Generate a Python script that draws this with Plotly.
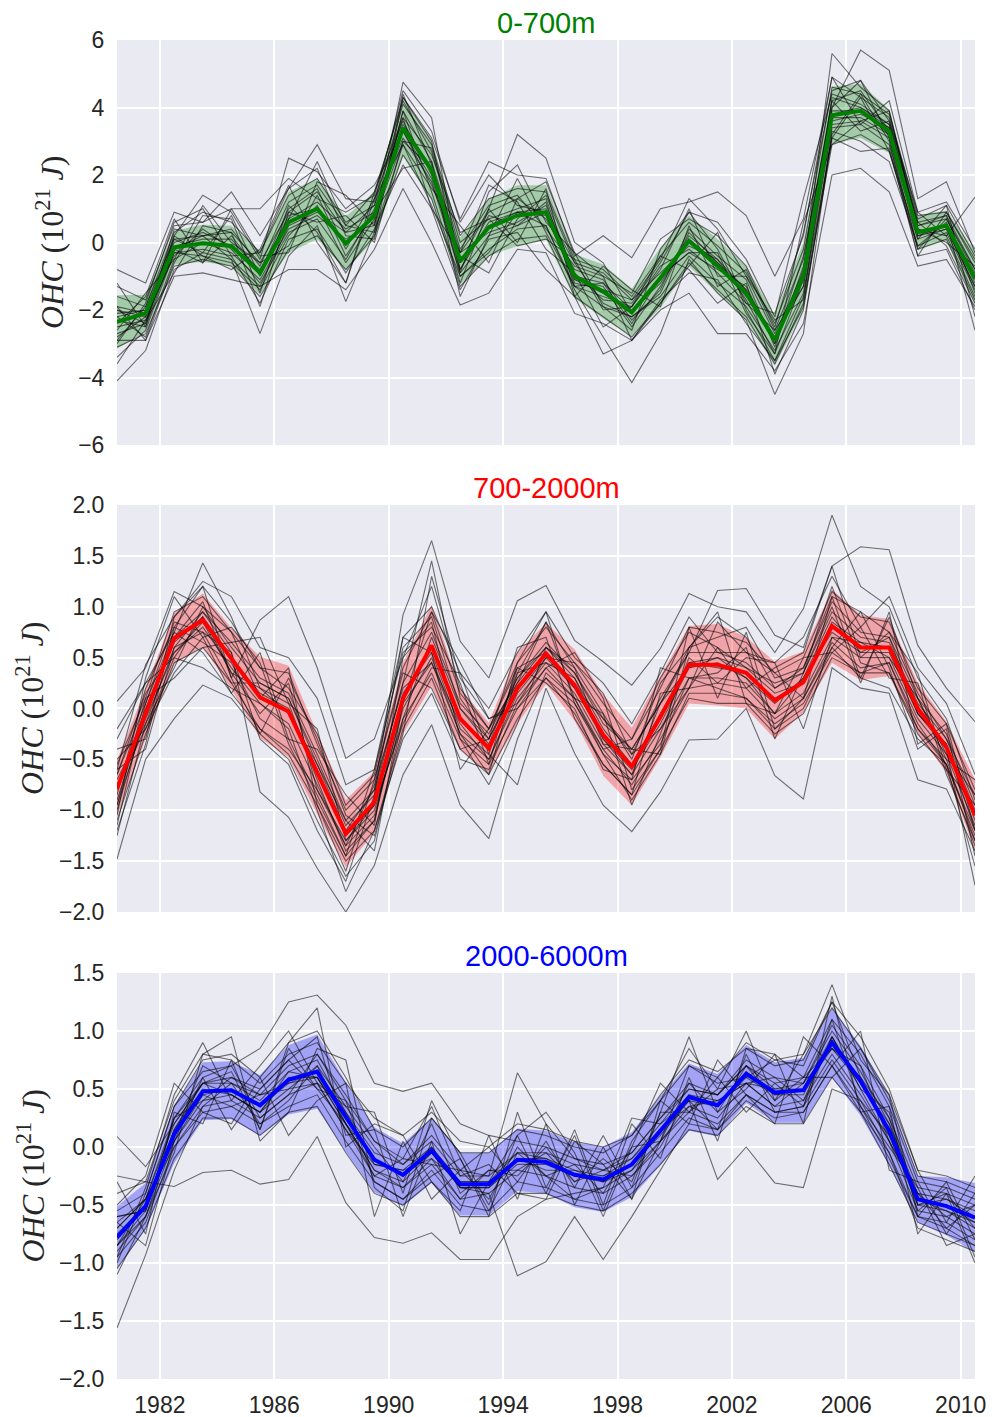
import plotly.graph_objects as go

YEARS = [1980.5, 1981.5, 1982.5, 1983.5, 1984.5, 1985.5, 1986.5, 1987.5, 1988.5, 1989.5,
         1990.5, 1991.5, 1992.5, 1993.5, 1994.5, 1995.5, 1996.5, 1997.5, 1998.5, 1999.5,
         2000.5, 2001.5, 2002.5, 2003.5, 2004.5, 2005.5, 2006.5, 2007.5, 2008.5, 2009.5,
         2010.5]
TICK_YEARS = [1982, 1986, 1990, 1994, 1998, 2002, 2006, 2010]

# ---------------- 0-700m ----------------
MEAN_0_700 = [-2.35, -2.1, -0.15, -0.02, -0.1, -0.9, 0.6, 1.0, -0.03, 0.8,
              3.4, 2.15, -0.55, 0.45, 0.8, 0.9, -1.0, -1.45, -2.07, -1.05,
              0.05, -0.7, -1.5, -2.9, -1.0, 3.77, 3.9, 3.3, 0.3, 0.5, -1.05]
STD_0_700 = [0.79, 0.55, 0.5, 0.55, 0.6, 0.65, 0.9, 0.9, 0.8, 0.7,
             0.85, 0.9, 0.7, 0.85, 0.9, 0.8, 0.65, 0.8, 0.7, 0.9,
             0.75, 0.8, 0.8, 0.75, 1.0, 0.85, 0.8, 0.65, 0.5, 0.45, 0.8]
MEMBERS_0_700 = [
    [-1.6, -1.9, 0.3, 0.9, 0.6, -0.3, 1.4, 1.9, 0.6, 1.1, 4.1, 2.9, 0.2, 1.3, 1.6, 1.5, -0.5, -0.8, -1.6, -0.4, 0.6, -0.1, -0.9, -2.4, -0.2, 4.6, 4.4, 3.8, 0.8, 0.9, -0.6],
    [-3.1, -2.7, -0.7, -0.5, -0.7, -1.6, -0.2, 0.2, -0.8, 0.2, 2.6, 1.3, -1.3, -0.4, 0.1, 0.2, -1.6, -2.2, -2.8, -1.8, -0.6, -1.4, -2.2, -3.6, -1.8, 2.9, 3.2, 2.7, -0.2, 0.1, -1.7],
    [-2.0, -2.4, 0.1, 0.2, 0.3, -0.6, 0.9, 1.5, 0.3, 0.5, 3.9, 2.4, -0.3, 0.9, 1.3, 0.7, -0.8, -1.1, -2.3, -1.4, 0.4, -0.4, -1.1, -3.1, -0.7, 4.2, 4.5, 3.3, 0.5, 0.7, -0.9],
    [-2.8, -2.2, -0.4, 0.4, -0.2, -1.2, 0.3, 0.7, -0.5, 1.0, 3.1, 1.8, -0.9, 0.2, 0.5, 1.2, -1.3, -1.6, -1.9, -0.7, -0.2, -0.9, -1.8, -2.6, -1.3, 3.5, 3.6, 3.1, 0.1, 0.4, -1.3],
    [-0.8, -1.2, 0.9, 0.6, 1.5, 0.2, 1.6, 2.9, 1.3, 1.2, 4.5, 3.3, 0.6, 2.0, 1.1, 0.9, -0.6, -0.9, -1.7, -0.5, 1.3, 0.4, -1.0, -2.7, -0.9, 5.6, 4.6, 3.9, 0.4, 0.2, 1.35],
    [-4.1, -3.2, -0.8, -0.3, -0.5, -2.7, -0.4, 0.5, -1.75, 0.3, 2.9, 1.1, -1.0, -0.3, 0.9, 0.5, -1.4, -2.8, -4.15, -2.7, -0.5, -1.5, -2.3, -4.5, -2.7, 3.3, 3.0, 2.4, -0.1, 0.6, -2.6],
    [-2.3, -2.5, -0.2, -0.6, 0.2, -0.9, 1.0, 1.6, -0.2, 1.3, 3.6, 2.0, -0.6, 1.0, 3.2, 2.5, 0.0, -0.6, -2.1, -1.0, -0.3, -0.8, -1.3, -3.0, -0.4, 4.0, 5.7, 5.1, 1.3, 1.8, -0.3],
    [-2.6, -1.5, -0.5, 0.0, -0.3, -1.1, 0.4, 0.8, 0.1, 0.6, 4.75, 3.7, -0.8, 0.6, 0.9, 0.8, -1.1, -1.3, -2.5, -1.3, 0.2, -0.5, -1.7, -3.3, -1.1, 3.6, 3.8, 3.4, 0.2, 0.5, -1.1],
    [-1.9, -2.1, 0.2, 1.4, 0.9, -0.5, 2.5, 2.1, 1.0, 1.7, 3.3, 1.7, -0.3, 0.3, 0.6, 1.1, -0.9, -1.7, -1.8, -0.6, 0.9, 0.6, -0.5, -2.2, 1.3, 4.4, 4.1, 3.5, 0.6, 0.8, -0.8],
    [-2.9, -2.9, -1.0, -0.9, -1.1, -1.3, -0.8, -0.8, -1.4, -0.2, 1.6, 0.0, -1.85, -1.5, -0.2, -0.3, -2.1, -2.4, -2.9, -2.0, -1.5, -2.7, -2.7, -3.8, -2.4, 2.0, 2.2, 1.5, -0.7, -0.5, -1.9],
    [-2.2, -2.0, 0.0, 0.3, -0.1, -0.8, 0.7, 1.2, 0.4, 0.9, 3.7, 2.6, 0.3, 0.7, 1.0, 1.3, -1.0, -1.2, -2.0, -1.2, 0.1, -0.6, -1.4, -2.8, -1.1, 3.9, 3.9, 3.2, 0.3, 0.5, -1.2],
    [-3.4, -2.6, -0.3, -0.2, -0.4, -1.8, 0.1, 0.4, -0.9, 0.4, 2.3, 1.0, -1.4, 0.1, 0.3, -0.8, -1.6, -3.3, -2.9, -1.7, -0.9, -1.1, -2.4, -3.5, -1.6, 3.1, 2.7, 2.8, -0.4, -0.2, -2.0],
    [-1.3, -1.7, 0.5, 0.6, 1.0, 1.0, 1.9, 1.3, 0.9, 1.4, 4.3, 3.1, 0.7, 2.4, 2.0, 1.9, -0.4, 0.2, -0.45, 1.0, 1.2, 1.5, 0.8, -1.0, 0.7, 4.9, 4.3, 3.7, 0.7, 1.1, -0.4],
    [-2.5, -2.3, -0.3, -0.4, -0.6, -1.4, 0.2, 1.1, -0.6, 0.7, 3.0, 2.2, -1.0, -0.2, 0.4, 0.5, -1.3, -1.9, -2.2, -1.6, -0.4, -1.2, -1.9, -3.2, -1.5, 3.4, 3.5, 2.9, -0.1, 0.3, -1.4],
    [-2.1, -2.0, -0.1, 0.1, 0.1, -0.9, 0.8, 1.0, 0.0, 0.8, 3.5, 2.2, -0.6, 0.5, 0.9, 1.0, -1.1, -1.5, -2.1, -1.1, 0.0, -0.7, -1.5, -2.9, -1.0, 3.8, 4.0, 3.4, 0.3, 0.5, -1.0],
    [-2.7, -2.4, 0.4, 0.2, 0.4, -0.7, 1.2, 1.7, 0.5, 1.5, 4.2, 2.7, -0.2, 1.1, 1.4, 0.4, -0.7, -1.0, -1.5, 0.1, 0.7, 0.2, -0.7, -2.5, 0.3, 4.5, 4.8, 3.6, 0.9, 1.2, -0.2],
    [-3.0, -1.8, 0.6, 1.0, -0.4, -0.3, 1.6, 2.2, 0.2, 0.1, 4.3, 3.0, -0.9, 1.5, 2.3, 0.6, -0.3, -1.9, -2.6, -0.2, 0.9, -0.2, -1.8, -2.1, 0.2, 4.9, 3.5, 4.2, 0.9, 0.2, -1.6],
    [-1.9, -2.9, -0.6, 0.8, 0.7, -1.5, 1.1, 0.3, -1.2, 1.3, 2.9, 1.6, 0.5, -0.6, 1.3, 1.8, -0.3, -1.0, -2.9, -1.8, -0.7, 0.3, -2.0, -3.5, -1.9, 3.2, 4.4, 3.0, -0.4, 0.9, -0.5],
    [-2.4, -1.6, 0.7, -0.6, 1.0, -0.4, -0.3, 1.8, 1.4, 0.5, 3.9, 1.5, -1.2, 1.0, 0.0, 1.6, -1.6, -0.7, -1.4, -1.9, 0.5, -1.3, -0.8, -2.6, -0.5, 4.2, 3.3, 3.6, 0.6, -0.1, -1.8],
    [-3.6, -2.3, -0.9, 0.5, 0.3, -1.9, 0.9, 0.6, 0.8, 0.0, 3.0, 2.8, 0.0, 0.7, -0.1, 0.1, -0.5, -2.0, -1.9, -0.4, -0.8, -1.8, -1.2, -3.9, -2.0, 3.1, 4.3, 2.7, 0.1, 1.1, -2.2],
    [-1.2, -2.5, 0.2, -0.4, -0.8, -0.2, 1.7, 0.0, -1.2, 1.5, 3.7, 1.0, -0.3, 1.7, 1.2, -0.2, -0.9, -2.5, -1.9, -0.8, 1.0, -1.0, -1.0, -2.3, -1.7, 4.0, 4.8, 3.1, -0.2, 0.7, -0.8],
    [-2.2, -2.8, -0.5, 1.1, 0.0, -0.6, -0.1, 1.4, -0.4, 0.9, 2.2, 2.4, -1.6, 0.2, 1.9, 0.3, -1.3, -1.2, -2.4, -1.0, -0.3, -0.3, -2.1, -3.3, 0.6, 2.9, 3.6, 3.9, 0.4, 0.0, -0.7],
    [-2.9, -1.9, 0.1, -0.3, 0.8, -1.0, 0.7, 2.4, 0.5, 0.3, 4.4, 2.3, -0.4, -0.9, 0.7, 1.4, -0.6, -1.8, -2.2, -1.5, 0.3, -0.6, -1.6, -2.8, -1.3, 4.3, 4.0, 3.5, 0.5, 0.8, -1.5],
    [-2.0, -2.2, -0.2, 0.2, -0.5, -1.3, 0.5, 0.9, 0.3, 1.1, 3.3, 1.9, -0.8, 0.8, 0.5, 0.9, -1.2, -1.4, -1.7, -0.9, -0.1, -0.5, -1.4, -3.0, -0.8, 3.7, 3.7, 3.2, 0.2, 0.4, -1.3],
]

# ---------------- 700-2000m ----------------
MEAN_700_2000 = [-0.79, -0.05, 0.69, 0.87, 0.49, 0.11, -0.03, -0.64, -1.23, -0.92,
                 0.1, 0.62, -0.1, -0.39, 0.2, 0.54, 0.23, -0.26, -0.57, -0.08,
                 0.43, 0.43, 0.35, 0.08, 0.26, 0.81, 0.6, 0.6, 0.0, -0.38, -1.05]
STD_700_2000 = [0.28, 0.25, 0.25, 0.26, 0.3, 0.4, 0.45, 0.4, 0.33, 0.3,
                0.35, 0.4, 0.3, 0.25, 0.35, 0.3, 0.35, 0.4, 0.38, 0.4,
                0.38, 0.4, 0.35, 0.38, 0.3, 0.36, 0.32, 0.28, 0.25, 0.25, 0.35]
MEMBERS_700_2000 = [
    [-0.55, 0.10, 0.95, 1.10, 0.75, 0.40, 0.35, -0.35, -1.00, -0.70, 0.40, 0.95, 0.15, -0.20, 0.45, 0.80, 0.45, 0.05, -0.30, 0.20, 0.80, 0.75, 0.65, 0.35, 0.50, 1.15, 0.90, 0.85, 0.20, -0.15, -0.80],
    [-1.10, -0.25, 0.45, 0.60, 0.25, -0.20, -0.45, -0.95, -1.50, -1.20, -0.20, 0.30, -0.40, -0.65, -0.10, 0.30, -0.05, -0.55, -0.85, -0.40, 0.10, 0.05, 0.05, -0.25, -0.05, 0.50, 0.35, 0.35, -0.25, -0.60, -1.35],
    [0.07, 0.40, 1.15, 1.00, 0.60, 0.25, 0.10, -0.50, -1.15, -0.85, 0.25, 1.45, 0.10, -0.30, 0.30, 0.65, 0.35, -0.10, -0.40, 0.05, 0.60, 0.90, 0.70, 0.20, 0.40, 1.05, 0.75, 0.70, 0.10, -0.25, -0.95],
    [-0.95, -0.10, 0.55, 0.80, 0.40, 0.05, -0.15, -0.75, -1.35, -1.05, 0.00, 0.50, -0.25, -0.50, 0.10, 0.45, 0.15, -0.35, -0.65, -0.20, 0.30, 0.30, 0.25, -0.05, 0.15, 0.70, 0.50, 0.50, -0.10, -0.45, -1.15],
    [-1.48, -0.50, -0.10, 0.23, 0.10, -0.25, -0.50, -1.10, -1.65, -1.30, -0.10, 0.70, 0.00, -0.30, 0.25, 0.60, 0.30, -0.20, -0.55, -0.05, 0.45, 0.50, 0.40, 0.15, 0.25, 0.85, 0.65, 0.60, -0.05, -0.40, -1.74],
    [-0.65, 0.05, 0.75, 1.43, 0.90, 0.20, -0.05, -0.55, -1.20, -0.80, 0.92, 1.65, 0.66, 0.30, 1.06, 1.21, 0.67, 0.46, 0.23, 0.59, 1.13, 1.00, 0.95, 0.55, 0.98, 1.90, 1.20, 1.00, 0.30, -0.10, -0.90],
    [-0.80, 0.00, 0.70, 1.05, 0.30, 0.87, 1.10, 0.40, -0.49, -0.30, 0.50, 1.20, 0.20, -0.20, 0.40, 0.55, 0.20, -0.10, -0.45, 0.10, 0.55, 1.16, 1.18, 0.72, 0.60, 1.40, 1.59, 1.56, 0.62, 0.20, -0.13],
    [-0.70, -0.15, 0.60, 0.75, 0.55, -0.82, -1.07, -1.57, -2.00, -1.54, -0.65, -0.16, -0.95, -1.28, -0.30, 0.35, 0.10, -0.40, -0.75, -0.30, 0.20, 0.25, 0.20, -0.10, 0.10, 0.65, 0.40, 0.45, -0.15, -0.55, -1.25],
    [-0.85, 0.20, 0.80, 0.65, 0.45, -0.10, -0.30, -0.85, -1.45, -1.10, 0.15, 0.55, -0.20, -0.45, -0.75, 0.20, -0.44, -0.95, -1.21, -0.82, -0.31, -0.30, 0.00, -0.66, -0.89, 0.40, 0.20, 0.15, -0.70, -0.79, -1.40],
    [-0.60, 0.43, 0.90, 1.25, 1.10, 0.60, 0.50, 0.10, -0.75, -0.60, 0.70, 1.00, 0.35, 0.00, 0.55, 0.95, 0.50, 0.25, -0.15, 0.35, 0.90, 0.55, 0.55, 0.45, 0.70, 1.30, 0.80, 1.10, 0.40, 0.05, -0.65],
    [-1.00, -0.05, 0.65, 0.90, 0.50, 0.15, 0.00, -0.60, -1.25, -0.95, 0.10, 0.60, -0.10, -0.40, 0.20, 0.55, 0.25, -0.25, -0.55, -0.10, 0.45, 0.40, 0.35, 0.10, 0.25, 0.80, 0.60, 0.60, 0.00, -0.40, -1.05],
    [-0.30, 0.25, 0.50, 0.40, 0.20, 0.05, -0.20, -1.00, -1.80, -1.20, -0.30, 0.15, -0.50, -0.60, 0.05, 0.40, 0.10, -0.45, -0.70, -0.35, 0.30, 0.20, 0.10, -0.20, 0.10, 0.60, 0.30, 0.20, -0.30, -0.55, -1.20],
    [-1.20, -0.35, 0.80, 1.20, 0.85, 0.40, 0.20, -0.25, -0.95, -0.65, 0.60, 0.90, 0.00, -0.35, 0.35, 0.85, 0.40, -0.05, -0.50, 0.25, 0.60, 0.70, 0.80, 0.30, 0.40, 1.10, 0.95, 0.75, 0.15, -0.30, -0.85],
    [-0.75, -0.20, 0.35, 0.70, 0.15, -0.20, -0.40, -0.80, -1.30, -1.00, -0.10, 0.35, -0.30, -0.55, 0.00, 0.30, 0.05, -0.45, -0.90, -0.45, 0.15, 0.15, 0.10, -0.15, 0.05, 0.55, 0.35, 0.45, -0.20, -0.50, -1.30],
    [-0.90, -0.05, 0.70, 0.95, 0.65, 0.30, 0.15, -0.45, -1.10, -0.80, 0.25, 0.75, 0.05, -0.25, 0.30, 0.60, 0.35, -0.15, -0.40, 0.05, 0.55, 0.55, 0.45, 0.20, 0.35, 0.95, 0.70, 0.65, 0.05, -0.30, -1.00],
    [-0.65, 0.15, 0.55, 0.85, 0.35, 0.20, 0.05, -0.70, -1.40, -1.10, 0.05, 0.45, -0.15, -0.50, 0.15, 0.50, 0.20, -0.30, -0.60, -0.15, 0.40, 0.45, 0.30, -0.05, 0.30, 0.75, 0.55, 0.55, -0.05, -0.35, -1.10],
    [-1.05, 0.30, 1.10, 0.70, 0.80, 0.45, -0.35, -0.90, -1.45, -0.60, 0.55, 0.80, 0.25, -0.55, 0.45, 0.95, 0.05, -0.40, -0.30, 0.30, 0.75, 0.60, 0.20, 0.40, 0.55, 1.40, 0.50, 0.75, 0.35, -0.60, -0.95],
    [-0.40, -0.30, 0.90, 1.20, 0.30, -0.25, 0.30, -0.30, -1.05, -1.25, -0.25, 1.30, 0.30, -0.10, 0.00, 0.40, 0.55, 0.10, -0.80, -0.40, 0.80, 0.10, 0.75, -0.20, 0.00, 0.60, 0.95, 0.40, -0.40, -0.20, -1.45],
    [-1.25, -0.15, 0.40, 1.00, 0.75, 0.10, 0.40, -0.95, -1.60, -0.70, 0.35, 0.20, -0.40, -0.30, 0.60, 0.70, -0.10, -0.55, -0.85, 0.15, 0.20, 0.85, 0.55, 0.35, 0.10, 1.10, 0.30, 0.90, 0.10, -0.50, -0.70],
    [-0.20, 0.25, 0.75, 0.55, 0.15, 0.55, -0.30, -0.40, -0.85, -1.15, 0.50, 0.85, -0.30, -0.75, -0.15, 0.60, 0.40, -0.35, -0.40, -0.45, 0.60, 0.95, 0.05, -0.05, 0.50, 0.55, 0.80, 0.30, 0.25, -0.65, -1.30],
    [-0.95, 0.10, 0.30, 0.60, 0.65, 0.70, 0.05, -0.20, -1.30, -0.95, -0.15, 0.40, 0.35, -0.45, 0.40, 0.25, 0.00, -0.60, -0.70, 0.40, 0.30, 0.35, 0.60, -0.30, 0.35, 1.00, 0.25, 0.95, -0.35, -0.15, -1.20],
    [-0.60, -0.40, 0.60, 0.95, 0.55, -0.30, -0.55, -1.20, -1.70, -0.85, 0.70, 0.55, -0.60, -0.20, 0.25, 0.85, 0.10, -0.05, -0.95, -0.25, 0.50, 0.25, 0.50, 0.45, -0.20, 0.70, 0.65, 0.50, 0.10, -0.45, -0.85],
    [-1.15, 0.05, 0.85, 0.75, 0.25, 0.25, 0.10, -0.55, -1.10, -1.40, 0.05, 0.95, 0.45, -0.10, 0.05, 0.50, 0.45, 0.15, -0.45, -0.20, 0.20, 0.60, 0.40, 0.25, 0.35, 1.20, 0.45, 0.35, -0.20, -0.55, -1.55],
    [-0.50, -0.20, 0.50, 0.90, 0.35, -0.05, 0.25, -0.80, -1.35, -0.75, 0.20, 0.45, -0.25, -0.65, 0.35, 0.45, 0.30, -0.30, -0.65, 0.05, 0.40, 0.50, 0.30, 0.05, 0.30, 0.90, 0.55, 0.70, -0.05, -0.35, -1.20],
]

# ---------------- 2000-6000m ----------------
MEAN_2000_6000 = [-0.78, -0.51, 0.11, 0.48, 0.49, 0.36, 0.58, 0.65, 0.26, -0.11,
                  -0.24, -0.03, -0.32, -0.32, -0.11, -0.13, -0.24, -0.28, -0.15, 0.14,
                  0.43, 0.36, 0.63, 0.47, 0.49, 0.9, 0.57, 0.14, -0.45, -0.51, -0.61]
STD_2000_6000 = [0.27, 0.2, 0.25, 0.25, 0.25, 0.26, 0.3, 0.32, 0.3, 0.28,
                 0.27, 0.28, 0.27, 0.27, 0.27, 0.27, 0.28, 0.28, 0.28, 0.3,
                 0.29, 0.27, 0.25, 0.26, 0.28, 0.3, 0.3, 0.3, 0.2, 0.25, 0.3]
MEMBERS_2000_6000 = [
    [-0.55, -0.40, 0.35, 0.75, 0.80, 0.60, 0.90, 1.00, 0.60, 0.15, 0.00, 0.25, -0.05, -0.05, 0.15, 0.10, 0.00, -0.05, 0.10, 0.40, 0.70, 0.60, 0.90, 0.75, 0.80, 1.20, 0.85, 0.40, -0.25, -0.30, -0.40],
    [-1.05, -0.70, -0.10, 0.25, 0.25, 0.10, 0.30, 0.35, -0.05, -0.40, -0.50, -0.30, -0.60, -0.60, -0.40, -0.40, -0.50, -0.55, -0.40, -0.15, 0.15, 0.10, 0.35, 0.20, 0.20, 0.60, 0.30, -0.15, -0.65, -0.75, -0.85],
    [0.09, -0.17, 0.20, 0.55, 0.60, 0.45, 0.70, 0.80, 0.40, 0.05, -0.15, 0.10, -0.20, -0.25, 0.64, 0.20, -0.10, -0.20, -0.05, 0.25, 0.55, 0.45, 0.75, 0.60, 0.55, 1.05, 0.70, 0.25, -0.35, -0.40, -0.50],
    [-1.56, -0.93, -0.20, 0.35, 0.40, 0.25, 0.45, 0.55, 0.15, -0.25, -0.35, -0.15, -0.45, -0.40, -0.20, -0.25, -0.35, -0.40, -0.25, 0.05, 0.35, 0.25, 0.55, 0.35, 0.40, 0.80, 0.45, 0.05, -0.55, -0.60, -0.75],
    [-0.70, -0.45, 0.25, 0.60, 0.70, 0.85, 1.25, 1.31, 1.05, 0.55, 0.48, 0.55, 0.20, 0.10, 0.05, 0.00, -0.10, -0.15, -0.05, 0.25, 0.50, 0.45, 0.70, 0.55, 0.60, 1.10, 0.80, 0.35, -0.30, -0.35, -0.45],
    [-0.25, -0.30, -0.34, -0.22, -0.20, -0.32, -0.28, 0.09, -0.48, -0.78, -0.83, -0.74, -0.97, -0.97, -0.60, -0.45, -0.40, -0.35, -0.20, 0.05, 0.30, 0.20, 0.45, 0.30, 0.35, 0.75, 0.40, -0.05, -0.70, -0.80, -0.90],
    [-0.85, -0.55, 0.10, 0.45, 0.50, 0.35, 0.55, 0.60, 0.20, -0.20, -0.30, -0.05, -0.35, -0.40, -1.11, -0.99, -0.60, -0.97, -0.60, -0.20, 0.20, 0.15, 0.40, 0.25, 0.30, 0.70, 0.35, -0.10, -0.60, -0.65, -0.80],
    [-0.90, -0.60, 0.05, 0.40, 0.45, 0.30, 0.50, 0.55, 0.15, -0.15, -0.20, 0.00, -0.30, -0.30, -0.05, -0.10, -0.20, -0.25, -0.10, 0.15, 0.40, -0.28, 0.00, -0.31, -0.35, 0.50, 0.40, 0.10, -0.45, -0.50, -0.60],
    [-0.65, -0.45, 0.20, 0.55, 0.55, 0.40, 0.65, 0.75, 0.30, -0.05, -0.15, 0.05, -0.25, -0.25, -0.05, -0.05, -0.15, -0.20, -0.10, 0.20, 0.50, 0.45, 0.70, 0.50, 0.55, 1.00, 0.65, 0.20, -0.40, -0.45, -0.55],
    [-0.75, -0.50, 0.15, 0.50, 0.45, 0.30, 0.60, 0.60, 0.25, -0.10, -0.25, -0.05, -0.35, -0.35, -0.15, -0.15, -0.25, -0.30, -0.15, 0.10, 0.40, 0.35, 0.60, 0.45, 0.45, 0.90, 0.55, 0.15, -0.45, -0.50, -0.65],
    [-0.95, -0.65, 0.00, 0.30, 0.35, 0.20, 0.35, 0.45, 0.05, -0.30, -0.45, -0.20, -0.50, -0.55, -0.30, -0.35, -0.45, -0.50, -0.35, -0.05, 0.25, 0.15, 0.45, 0.30, 0.30, 0.70, 0.30, -0.05, -0.60, -0.70, -0.85],
    [-0.40, -0.30, 0.40, 0.80, 0.75, 0.55, 0.80, 0.90, 0.55, 0.25, 0.10, 0.30, 0.05, 0.00, 0.20, 0.15, 0.05, 0.00, 0.10, 0.45, 0.75, 0.65, 0.85, 0.70, 0.75, 1.25, 0.95, 0.50, -0.20, -0.25, -0.35],
    [-0.80, -0.50, 0.10, 0.70, 0.55, 0.20, 0.40, 0.70, 0.35, 0.00, -0.30, 0.20, -0.40, -0.20, -0.25, 0.00, -0.30, -0.10, -0.30, 0.30, 0.30, 0.50, 0.55, 0.60, 0.40, 0.95, 0.50, 0.30, -0.50, -0.40, -0.70],
    [-0.60, -0.55, 0.25, 0.40, 0.60, 0.50, 0.75, 0.50, 0.20, -0.25, -0.10, -0.15, -0.20, -0.45, 0.00, -0.25, -0.15, -0.40, 0.00, 0.05, 0.55, 0.30, 0.70, 0.40, 0.60, 0.85, 0.70, 0.05, -0.40, -0.60, -0.50],
    [-0.70, -0.45, 0.05, 0.45, 0.35, 0.45, 0.55, 0.65, 0.30, -0.15, -0.20, -0.10, -0.30, -0.30, -0.10, -0.20, -0.20, -0.30, -0.20, 0.15, 0.35, 0.40, 0.55, 0.50, 0.50, 0.85, 0.60, 0.10, -0.50, -0.45, -0.60],
    [-0.85, -0.60, 0.15, 0.55, 0.45, 0.30, 0.65, 0.60, 0.20, -0.10, -0.25, 0.00, -0.35, -0.35, -0.10, -0.10, -0.25, -0.25, -0.15, 0.15, 0.45, 0.35, 0.65, 0.45, 0.50, 0.95, 0.55, 0.15, -0.45, -0.55, -0.65],
    [-0.95, -0.35, 0.45, 0.90, 0.40, 0.70, 1.00, 0.55, 0.35, 0.30, -0.40, 0.40, -0.10, -0.60, 0.30, -0.35, 0.10, -0.55, 0.05, 0.40, 0.85, 0.50, 1.00, 0.40, 0.80, 1.40, 0.75, 0.45, -0.60, -0.30, -0.80],
    [-0.30, -0.75, 0.30, 0.20, 0.75, 0.15, 0.90, 1.20, 0.00, 0.20, 0.10, -0.30, -0.55, 0.10, -0.45, 0.20, -0.50, 0.00, -0.45, 0.40, 0.20, 0.75, 0.45, 0.20, 0.95, 0.70, 1.00, -0.20, -0.30, -0.75, -0.40],
    [-1.10, -0.60, -0.05, 0.80, 0.95, 0.05, 0.30, 0.85, 0.75, -0.35, -0.55, 0.25, -0.05, -0.50, 0.10, -0.40, 0.15, -0.50, 0.20, -0.10, 0.60, 0.05, 0.85, 0.80, 0.20, 1.30, 0.30, 0.35, -0.75, -0.40, -1.00],
    [-0.50, -0.25, 0.55, 0.30, 0.20, 0.60, 0.10, 0.40, 0.55, -0.60, 0.05, -0.45, -0.20, 0.00, -0.30, 0.05, -0.35, 0.10, -0.35, 0.30, 0.95, 0.30, 0.50, 0.80, 0.60, 0.60, 0.85, 0.45, -0.20, -0.65, -0.25],
    [-0.65, -0.85, 0.05, 0.60, 0.15, 0.50, 0.75, 0.95, 0.10, 0.15, -0.60, 0.05, -0.75, -0.30, 0.10, 0.30, -0.05, -0.60, 0.00, 0.55, 0.30, 0.60, 0.30, 0.55, 0.35, 1.10, 0.35, 0.00, -0.35, -0.85, -0.75],
    [-1.00, -0.40, 0.35, 0.65, 0.70, 0.25, 0.45, 0.80, 0.45, 0.05, -0.10, 0.35, -0.25, -0.15, -0.40, -0.45, 0.05, -0.15, -0.45, 0.05, 0.70, 0.55, 0.60, 0.75, 0.70, 1.25, 0.60, 0.25, -0.55, -0.35, -0.95],
    [-0.60, -0.55, 0.25, 0.55, 0.65, 0.15, 0.85, 0.50, 0.40, -0.30, -0.45, -0.25, -0.10, -0.55, -0.05, -0.25, -0.45, -0.35, 0.25, 0.20, 0.40, 0.15, 0.80, 0.30, 0.35, 0.95, 0.50, 0.05, -0.40, -0.70, -0.50],
    [-0.85, -0.45, 0.00, 0.35, 0.55, 0.45, 0.50, 0.70, 0.20, -0.20, -0.35, -0.10, -0.45, -0.20, -0.20, -0.05, -0.30, -0.20, -0.25, 0.00, 0.45, 0.40, 0.55, 0.35, 0.55, 0.85, 0.55, 0.20, -0.50, -0.55, -0.70],
]

PANELS = [
    dict(title="0-700m", color="#008000", band="rgba(0,128,0,0.30)",
         mean=MEAN_0_700, std=STD_0_700, members=MEMBERS_0_700,
         yrange=[-6, 6], dtick=2, fmt="d", domain=[0.6975, 1.0], labx=-0.0787),
    dict(title="700-2000m", color="#FF0000", band="rgba(255,0,0,0.30)",
         mean=MEAN_700_2000, std=STD_700_2000, members=MEMBERS_700_2000,
         yrange=[-2, 2], dtick=0.5, fmt=".1f", domain=[0.3488, 0.6527], labx=-0.1008),
    dict(title="2000-6000m", color="#0000FF", band="rgba(0,0,255,0.30)",
         mean=MEAN_2000_6000, std=STD_2000_6000, members=MEMBERS_2000_6000,
         yrange=[-2, 1.5], dtick=0.5, fmt=".1f", domain=[0.0, 0.3032], labx=-0.1008),
]

for p in PANELS:
    for arr in [p["mean"], p["std"]] + p["members"]:
        if len(arr) != len(YEARS):
            raise ValueError("bad length %d in %s" % (len(arr), p["title"]))

fig = go.Figure()
TICK_FONT = dict(family="Liberation Sans, Arial, sans-serif", size=23, color="#262626")

for i, p in enumerate(PANELS):
    n = "" if i == 0 else str(i + 1)
    xa, ya = "x" + n, "y" + n
    lo = [m - s for m, s in zip(p["mean"], p["std"])]
    hi = [m + s for m, s in zip(p["mean"], p["std"])]
    fig.add_trace(go.Scatter(x=YEARS, y=lo, mode="lines", line=dict(width=0, color=p["band"]),
                             xaxis=xa, yaxis=ya, showlegend=False, hoverinfo="skip"))
    fig.add_trace(go.Scatter(x=YEARS, y=hi, mode="lines", line=dict(width=0, color=p["band"]),
                             fill="tonexty", fillcolor=p["band"],
                             xaxis=xa, yaxis=ya, showlegend=False, hoverinfo="skip"))
    for mem in p["members"]:
        fig.add_trace(go.Scatter(x=YEARS, y=mem, mode="lines",
                                 line=dict(width=1.1, color="rgba(0,0,0,0.55)"),
                                 xaxis=xa, yaxis=ya, showlegend=False, hoverinfo="skip"))
    fig.add_trace(go.Scatter(x=YEARS, y=p["mean"], mode="lines",
                             line=dict(width=4, color=p["color"]),
                             xaxis=xa, yaxis=ya, showlegend=False))

    fig.layout["xaxis" + n] = dict(
        domain=[0, 1], anchor=ya, range=[1980.5, 2010.5], tickvals=TICK_YEARS,
        showticklabels=(i == 2), gridcolor="white", gridwidth=1.6, showline=False,
        zeroline=False, ticks="outside", ticklen=5, tickcolor="rgba(0,0,0,0)",
        tickfont=TICK_FONT, automargin=False, **({} if i == 0 else {"matches": "x"}))
    fig.layout["yaxis" + n] = dict(
        domain=p["domain"], anchor=xa, range=p["yrange"], dtick=p["dtick"],
        tick0=p["yrange"][0], tickformat=p["fmt"], gridcolor="white", gridwidth=1.6,
        showline=False, zeroline=False, ticks="outside", ticklen=7,
        tickcolor="rgba(0,0,0,0)", tickfont=TICK_FONT, automargin=False)

    fig.add_annotation(text=p["title"], xref="paper", yref="paper", x=0.5, y=p["domain"][1],
                       xanchor="center", yanchor="bottom", showarrow=False, borderpad=0,
                       font=dict(family="Liberation Sans, Arial, sans-serif", size=29, color=p["color"]))
    fig.add_annotation(text="<i>OHC</i> (10<sup>21</sup> <i>J</i>)", xref="paper", yref="paper",
                       x=p["labx"], y=(p["domain"][0] + p["domain"][1]) / 2,
                       xanchor="center", yanchor="middle", textangle=-90, showarrow=False,
                       font=dict(family="Liberation Serif, DejaVu Serif, serif", size=32, color="#262626"))

fig.update_layout(width=992, height=1417, margin=dict(l=117, r=17, t=40, b=38, autoexpand=False),
                  paper_bgcolor="white", plot_bgcolor="#EAEAF2", showlegend=False)

# Remove the browser's default body margin so the 992x1417 figure fills the window exactly.
fig.write_html("out.html", config={"displayModeBar": False},
               post_script="document.body.style.margin='0px';")
